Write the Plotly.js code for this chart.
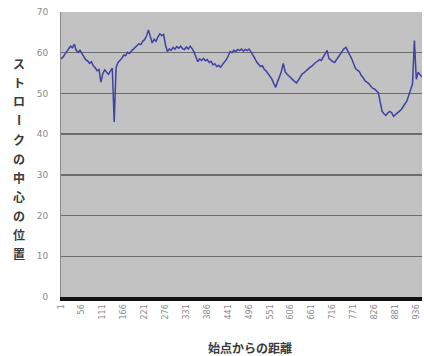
<!DOCTYPE html>
<html>
<head>
<meta charset="utf-8">
<script src="https://cdn.plot.ly/plotly-3.0.1.min.js"></script>
<style>
  html, body { margin: 0; padding: 0; background: #ffffff; }
  #chart { width: 424px; height: 356px; }
</style>
</head>
<body>
<div id="chart"></div>
<script>
// Stroke centre position, sampled every 5 steps from the start point (step 1 .. 951)
const sampleStep = 5;
const centerPos = [
  58.5, 58.9, 59.6, 60.2, 60.8, 61.6, 61.2, 62.1, 60.6, 60.1,
  60.6, 59.8, 59.2, 58.3, 58.0, 57.4, 57.8, 56.8, 56.3, 55.6,
  55.9, 52.8, 54.9, 55.8, 55.2, 54.7, 55.5, 56.2, 43.0, 56.4,
  57.6, 58.1, 58.6, 59.4, 59.3, 60.1, 59.8, 60.4, 60.9, 61.3,
  61.7, 62.2, 62.0, 62.8, 63.2, 64.1, 65.6, 63.8, 62.4, 63.3,
  62.8, 63.9, 64.6, 64.2, 64.5, 61.9, 60.3, 60.9, 60.6, 61.3,
  60.9, 61.5, 61.1, 61.6, 61.0, 60.8, 61.4, 60.9, 61.6, 61.0,
  60.2, 59.0, 57.8, 58.5, 58.1, 58.6, 58.0, 58.3, 57.6, 57.9,
  57.0, 57.3, 56.6, 56.9, 56.4, 57.1, 57.6, 58.3, 59.2, 60.3,
  60.0, 60.6, 60.3, 60.8, 60.5, 60.9, 60.4, 60.8, 60.5, 60.9,
  60.2, 59.5, 58.6, 57.7, 57.1, 56.6, 56.8, 55.9, 55.5, 54.9,
  54.2, 53.5, 52.4, 51.5, 52.9, 54.1, 55.4, 57.4, 55.3, 54.7,
  54.2, 53.7, 53.2, 52.9, 52.6, 53.4, 54.3, 54.8, 55.1, 55.6,
  55.9, 56.4, 56.7, 57.2, 57.6, 57.9, 58.3, 58.1, 58.9, 59.8,
  60.6, 58.6, 58.1, 57.8, 57.6, 58.3, 59.1, 59.7, 60.4, 61.0,
  61.3, 60.2, 59.4, 58.5, 57.3, 56.1, 55.7, 55.4, 54.4, 53.9,
  53.1, 52.8, 52.4, 51.8, 51.3, 51.1, 50.6, 50.2, 47.9, 45.6,
  45.0, 44.6, 45.2, 45.6, 45.3, 44.4, 44.8, 45.1, 45.6, 46.0,
  46.6, 47.4, 48.1, 49.6, 50.6, 52.3, 63.0, 53.5, 55.2, 54.6,
  54.0
];
const xTickVals = [1, 56, 111, 166, 221, 276, 331, 386, 441, 496, 551, 606, 661, 716, 771, 826, 881, 936];
const yTickVals = [0, 10, 20, 30, 40, 50, 60, 70];
const yTitle = "ストロークの中心の位置";
const xTitle = "始点からの距離";

const distance = centerPos.map((_, i) => 1 + i * sampleStep);

const W = 424, H = 356;
const M = { l: 61, r: 2, t: 12, b: 59 };
const plotW = W - M.l - M.r, plotH = H - M.t - M.b;
const px2x = px => (px - M.l) / plotW;
const py2y = py => (H - M.b - py) / plotH;

// vertical stacked y-axis title, one glyph per annotation
const yChars = Array.from(yTitle);
const yTitleAnn = yChars.map((ch, i) => ({
  text: ch,
  xref: 'paper', yref: 'paper',
  x: px2x(19), y: py2y(63 + i * 19),
  xanchor: 'center', yanchor: 'middle',
  showarrow: false,
  textangle: ch === 'ー' ? 90 : 0,
  font: { family: 'Noto Sans CJK JP', size: 12, color: '#3a3a3a', weight: 'bold' }
}));

const layout = {
  width: W, height: H,
  margin: M,
  paper_bgcolor: '#ffffff',
  plot_bgcolor: '#c2c2c2',
  showlegend: false,
  xaxis: {
    range: [1, distance[distance.length - 1]],
    tickmode: 'array',
    tickvals: xTickVals,
    ticktext: xTickVals.map(String),
    tickangle: -90,
    showgrid: false,
    zeroline: false,
    showline: true,
    linecolor: '#111111',
    linewidth: 4,
    ticks: '',
    tickfont: { family: 'DejaVu Sans', size: 8, color: '#8a8a8a' }
  },
  yaxis: {
    range: [0, 70],
    tickmode: 'array',
    tickvals: yTickVals,
    ticks: 'outside',
    ticklen: 10,
    tickcolor: 'rgba(0,0,0,0)',
    showgrid: true,
    gridcolor: '#6c6c6c',
    gridwidth: 1.5,
    zeroline: false,
    showline: true,
    linecolor: '#8c8c8c',
    linewidth: 1,
    tickfont: { family: 'DejaVu Sans', size: 9, color: '#8a8a8a' }
  },
  annotations: yTitleAnn.concat([{
    text: xTitle,
    xref: 'paper', yref: 'paper',
    x: px2x(250), y: py2y(347),
    xanchor: 'center', yanchor: 'middle',
    showarrow: false,
    font: { family: 'Noto Sans CJK JP', size: 12, color: '#3a3a3a', weight: 'bold' }
  }])
};

const trace = {
  type: 'scatter',
  mode: 'lines',
  x: distance,
  y: centerPos,
  line: { color: '#4040a6', width: 1.5 },
  hoverinfo: 'x+y'
};

Plotly.newPlot('chart', [trace], layout, { staticPlot: true, displayModeBar: false });
</script>
</body>
</html>
